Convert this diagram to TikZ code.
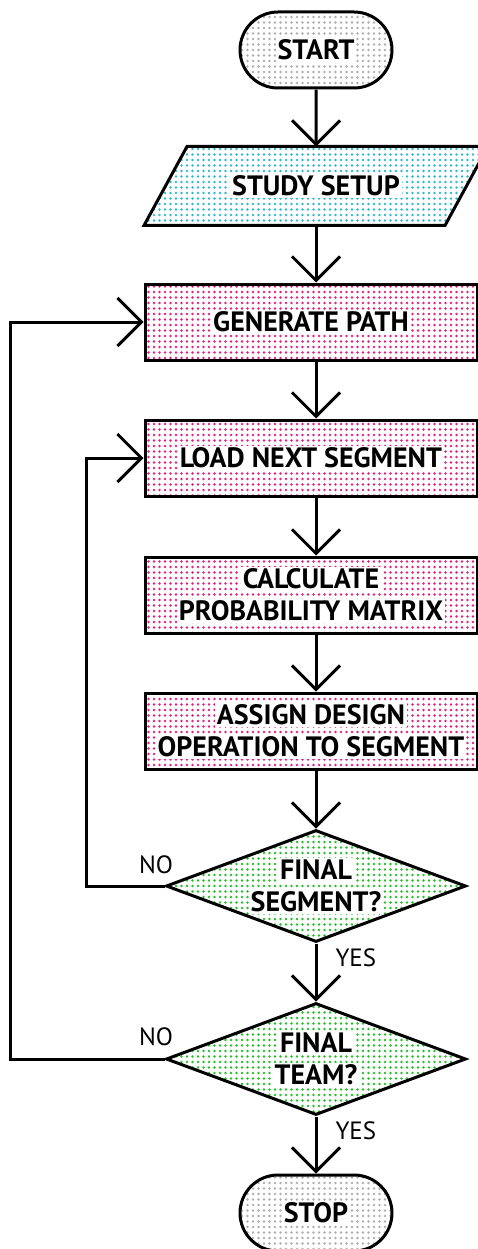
\documentclass[tikz,border=0pt]{standalone}
\usepackage{fontspec}
\setmainfont{PT Sans}
\usetikzlibrary{shapes.geometric,shapes.misc,arrows.meta,patterns.meta,backgrounds}

\definecolor{dotgrey}{RGB}{175,175,175}
\definecolor{dotcyan}{RGB}{50,185,205}
\definecolor{dotpink}{RGB}{228,35,120}
\definecolor{dotgreen}{RGB}{40,190,45}

\newcommand{\wb}[1]{\colorbox{white}{#1}}
\setlength{\fboxsep}{2pt}

\begin{document}
\begin{tikzpicture}[x=1pt,y=-1pt,line width=3pt,
    every node/.style={font=\fontsize{28}{32}\selectfont\bfseries,align=center,inner sep=0pt},
    arr/.style={-{Straight Barb[length=24pt,width=48pt]}},
    dotfill/.style={pattern={Dots[distance=5.5pt,radius=1.4pt]},pattern color=#1},
    terminal/.style={draw,rounded rectangle,minimum width=152,minimum height=76,dotfill=dotgrey},
    inout/.style={rectangle,minimum width=298,minimum height=76},
    process/.style={draw,rectangle,minimum width=332,minimum height=76,dotfill=dotpink},
    decision/.style={draw,diamond,aspect=2.68,minimum width=300,minimum height=112,
        dotfill=dotgreen},
    lbl/.style={font=\fontsize{25}{28}\selectfont}]
\useasboundingbox (0,0) rectangle (478,1249);

% boxes
\node[terminal] (start) at (316,50) {\wb{START}};
\node[inout] (setup) at (316,186) {\wb{STUDY SETUP}};
\node[process] (genpath) at (311,322) {\wb{GENERATE PATH}};
\node[process] (loadseg) at (311,458) {\wb{LOAD NEXT SEGMENT}};
\node[process] (calcprob) at (311,595) {\wb{CALCULATE}\\\wb{PROBABILITY MATRIX}};
\node[process] (assign) at (311,731) {\wb{ASSIGN DESIGN}\\\wb{OPERATION TO SEGMENT}};
\node[decision] (finseg) at (316,886) {\wb{FINAL}\\\wb{SEGMENT?}};
\node[decision] (finteam) at (316,1059) {\wb{FINAL}\\\wb{TEAM?}};
\node[terminal] (stop) at (316,1213) {\wb{STOP}};
\coordinate (spine) at (316,0);

% main line
\draw[arr] (start) -- (setup);
\draw[arr] (setup.south) -- (setup.south |- genpath.north);
\draw[arr] (genpath.south -| spine) -- (loadseg.north -| spine);
\draw[arr] (loadseg.south -| spine) -- (calcprob.north -| spine);
\draw[arr] (calcprob.south -| spine) -- (assign.north -| spine);
\draw[arr] (assign.south -| spine) -- (finseg);
\draw[arr] (finseg) -- node[lbl,pos=0.25,right=18pt] (yesseg) {YES} (finteam);
\draw[arr] (finteam) -- node[lbl,pos=0.25,right=18pt] (yesteam) {YES} (stop);

% loops back
\node[lbl,anchor=south east] (noseg) at ([shift={(10,-11)}]finseg.west) {NO};
\node[lbl,anchor=south east] (noteam) at ([shift={(10,-12)}]finteam.west) {NO};
\draw[arr] (finseg.west) -- ++(-78,0) |- (loadseg.west);
\draw[arr] (finteam.west) -- ++(-154,0) |- (genpath.west);

% slanted input box, behind its text
\begin{pgfonlayer}{background}
\draw[line width=3pt,dotfill=dotcyan] ([xshift=-21.5pt]setup.south west) -- ([xshift=-21.5pt]setup.south east)
    -- ([xshift=21.5pt]setup.north east) -- ([xshift=21.5pt]setup.north west) -- cycle;
\end{pgfonlayer}
\end{tikzpicture}
\end{document}
